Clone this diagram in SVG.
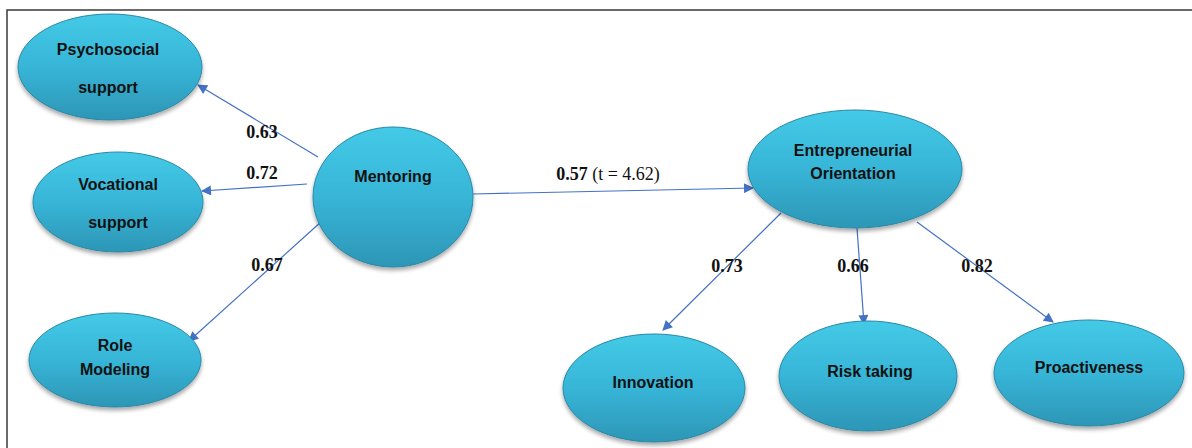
<svg xmlns="http://www.w3.org/2000/svg" width="1192" height="448" viewBox="0 0 1192 448">
  <style>
    .node { fill: url(#bubble); stroke: #2a88a6; stroke-width: 1; filter: url(#shadow); }
    .name { font-family: "Liberation Sans", Arial, sans-serif; font-weight: bold; font-size: 16px; fill: #111; text-anchor: middle; }
    .wt { font-family: "Liberation Serif", "Times New Roman", serif; font-weight: bold; font-size: 18px; fill: #111; text-anchor: middle; }
    .wt .reg { font-weight: normal; }
    .link { stroke: #4472c4; stroke-width: 1.2; fill: none; marker-end: url(#head); }
    .frame { stroke: #3a3a3a; stroke-width: 1.5; fill: none; }
  </style>
  <defs>
    <linearGradient id="bubble" x1="0" y1="0" x2="0" y2="1">
      <stop offset="0" stop-color="#44cae7"/>
      <stop offset="0.5" stop-color="#37b5d7"/>
      <stop offset="1" stop-color="#2d96b6"/>
    </linearGradient>
    <filter id="shadow" x="-10%" y="-10%" width="120%" height="130%">
      <feGaussianBlur in="SourceAlpha" stdDeviation="2"/>
      <feOffset dx="0" dy="3" result="b"/>
      <feComponentTransfer><feFuncA type="linear" slope="0.35"/></feComponentTransfer>
      <feMerge><feMergeNode/><feMergeNode in="SourceGraphic"/></feMerge>
    </filter>
    <marker id="head" viewBox="0 0 10 10" refX="9" refY="5" markerWidth="12" markerHeight="10" markerUnits="userSpaceOnUse" orient="auto">
      <path d="M0,0 L10,5 L0,10 z" fill="#4472c4"/>
    </marker>
  </defs>

  <rect width="1192" height="448" fill="#ffffff"/>
  <path class="frame" d="M7,448 V10 H1192"/>

  <g id="connectors">
    <line class="link" x1="318" y1="157" x2="198" y2="85"/>
    <line class="link" x1="307" y1="184" x2="202" y2="191"/>
    <line class="link" x1="322" y1="221" x2="189" y2="341"/>
    <line class="link" x1="473" y1="194" x2="753" y2="188"/>
    <line class="link" x1="781" y1="213" x2="663" y2="330"/>
    <line class="link" x1="857" y1="228" x2="864" y2="324"/>
    <line class="link" x1="917" y1="222" x2="1053" y2="322"/>
    <text class="wt" x="262" y="138">0.63</text>
    <text class="wt" x="262" y="179">0.72</text>
    <text class="wt" x="267" y="271">0.67</text>
    <text class="wt" x="608" y="180">0.57<tspan class="reg"> (t = 4.62)</tspan></text>
    <text class="wt" x="727" y="272">0.73</text>
    <text class="wt" x="853" y="272">0.66</text>
    <text class="wt" x="977" y="272">0.82</text>
  </g>

  <g id="psychosocial">
    <ellipse class="node" cx="110" cy="67" rx="92" ry="53"/>
    <text class="name" x="108" y="55">Psychosocial</text>
    <text class="name" x="108" y="93">support</text>
  </g>
  <g id="vocational">
    <ellipse class="node" cx="118" cy="202" rx="85" ry="50"/>
    <text class="name" x="118" y="190">Vocational</text>
    <text class="name" x="118" y="228">support</text>
  </g>
  <g id="role-modeling">
    <ellipse class="node" cx="115" cy="360" rx="86" ry="47"/>
    <text class="name" x="115" y="351">Role</text>
    <text class="name" x="115" y="375">Modeling</text>
  </g>
  <g id="mentoring">
    <ellipse class="node" cx="393" cy="197" rx="80" ry="70"/>
    <text class="name" x="393" y="182">Mentoring</text>
  </g>
  <g id="entrepreneurial-orientation">
    <ellipse class="node" cx="855" cy="169" rx="107" ry="59"/>
    <text class="name" x="853" y="156">Entrepreneurial</text>
    <text class="name" x="853" y="179">Orientation</text>
  </g>
  <g id="innovation">
    <ellipse class="node" cx="654" cy="388" rx="91" ry="54"/>
    <text class="name" x="653" y="388">Innovation</text>
  </g>
  <g id="risk-taking">
    <ellipse class="node" cx="868" cy="376" rx="89" ry="55"/>
    <text class="name" x="870" y="377">Risk taking</text>
  </g>
  <g id="proactiveness">
    <ellipse class="node" cx="1089" cy="373" rx="95" ry="53"/>
    <text class="name" x="1089" y="373">Proactiveness</text>
  </g>
</svg>
